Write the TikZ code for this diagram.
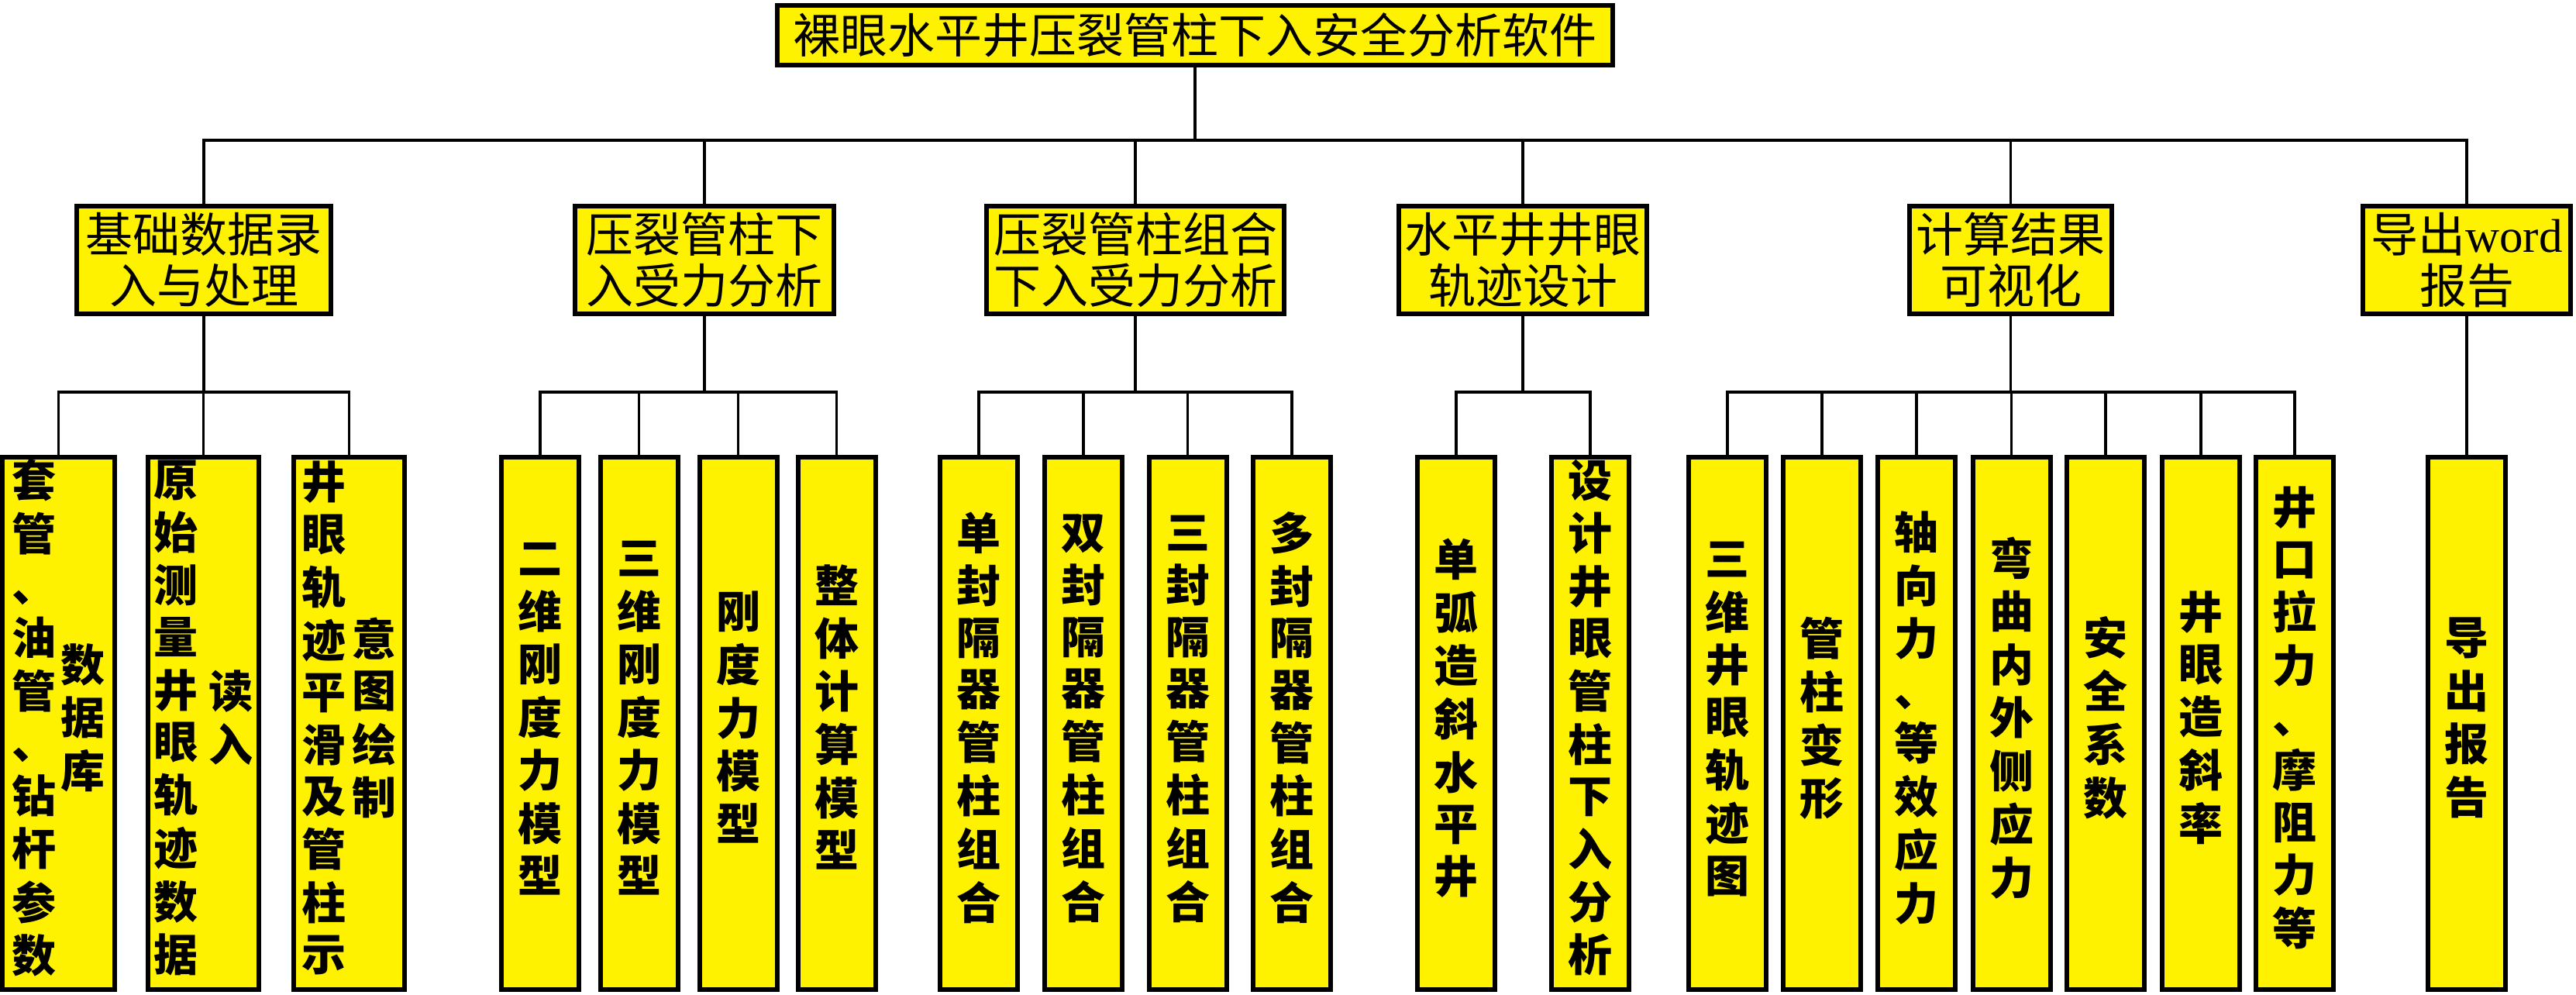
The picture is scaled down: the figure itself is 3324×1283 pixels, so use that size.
\documentclass[tikz,border=0pt]{standalone}
\usepackage{fontspec}
\usetikzlibrary{backgrounds}
\setmainfont{Liberation Serif}
\newfontfamily\cjk{Noto Sans CJK SC}
\newcommand\vt[1]{\begin{tabular}{@{}c@{}}#1\end{tabular}}
\begin{document}
\begin{tikzpicture}[x=1pt,y=-1pt,
  bx/.style={draw=black,line width=6pt,fill=yellow,inner sep=0pt,align=center},
  topbox/.style={bx,minimum width=1078pt,minimum height=77pt,font=\cjk\fontsize{61}{66}\selectfont},
  midbox/.style={bx,minimum height=139pt,font=\cjk\fontsize{61}{66}\selectfont},
  leaf/.style={bx,minimum width=100pt,minimum height=687pt,font=\cjk\bfseries\fontsize{57}{66}\selectfont},
  wire/.style={line width=3.5pt}]
\useasboundingbox (0,0) rectangle (3324,1283);
\coordinate (yT) at (0,181);
\coordinate (yL) at (0,506);

% nodes
\node[topbox] (T) at (1542,45.5) {裸眼水平井压裂管柱下入安全分析软件};

\node[midbox,minimum width=328pt] (B1) at (263,335.5) {基础数据录\\入与处理};
\node[midbox,minimum width=334pt] (B2) at (909,335.5) {压裂管柱下\\入受力分析};
\node[midbox,minimum width=384pt] (B3) at (1465,335.5) {压裂管柱组合\\下入受力分析};
\node[midbox,minimum width=320pt] (B4) at (1965,335.5) {水平井井眼\\轨迹设计};
\node[midbox,minimum width=261pt] (B5) at (2594.5,335.5) {计算结果\\可视化};
\node[midbox,minimum width=268pt] (B6) at (3183,335.5) {导出{\rmfamily word}\\报告};

% leaves group 1
\node[leaf,minimum width=145pt] (L1a) at (75.5,933.5) {\vt{套\\管\\、\\油\\管\\、\\钻\\杆\\参\\数}\hspace{6pt}\vt{数\\据\\库}};
\node[leaf,minimum width=143pt] (L1b) at (262.5,933.5) {\vt{原\\始\\测\\量\\井\\眼\\轨\\迹\\数\\据}\hspace{14pt}\vt{读\\入}};
\node[leaf,minimum width=143pt] (L1c) at (450.5,933.5) {\vt{井\\眼\\轨\\迹\\平\\滑\\及\\管\\柱\\示}\hspace{8pt}\vt{意\\图\\绘\\制}};
% group 2
\node[leaf] (L2a) at (697,933.5) {\vt{二\\维\\刚\\度\\力\\模\\型}};
\node[leaf] (L2b) at (824.5,933.5) {\vt{三\\维\\刚\\度\\力\\模\\型}};
\node[leaf] (L2c) at (952.5,933.5) {\vt{刚\\度\\力\\模\\型}};
\node[leaf] (L2d) at (1079.5,933.5) {\vt{整\\体\\计\\算\\模\\型}};
% group 3
\node[leaf] (L3a) at (1263,933.5) {\vt{单\\封\\隔\\器\\管\\柱\\组\\合}};
\node[leaf] (L3b) at (1398,933.5) {\vt{双\\封\\隔\\器\\管\\柱\\组\\合}};
\node[leaf] (L3c) at (1532.5,933.5) {\vt{三\\封\\隔\\器\\管\\柱\\组\\合}};
\node[leaf] (L3d) at (1667,933.5) {\vt{多\\封\\隔\\器\\管\\柱\\组\\合}};
% group 4
\node[leaf] (L4a) at (1879,933.5) {\vt{单\\弧\\造\\斜\\水\\平\\井}};
\node[leaf] (L4b) at (2052,933.5) {\vt{设\\计\\井\\眼\\管\\柱\\下\\入\\分\\析}};
% group 5
\node[leaf] (L5a) at (2229,933.5) {\vt{三\\维\\井\\眼\\轨\\迹\\图}};
\node[leaf] (L5b) at (2351,933.5) {\vt{管\\柱\\变\\形}};
\node[leaf] (L5c) at (2473,933.5) {\vt{轴\\向\\力\\、\\等\\效\\应\\力}};
\node[leaf] (L5d) at (2595.5,933.5) {\vt{弯\\曲\\内\\外\\侧\\应\\力}};
\node[leaf] (L5e) at (2717,933.5) {\vt{安\\全\\系\\数}};
\node[leaf] (L5f) at (2840,933.5) {\vt{井\\眼\\造\\斜\\率}};
\node[leaf] (L5g) at (2961,933.5) {\vt{井\\口\\拉\\力\\、\\摩\\阻\\力\\等}};
% group 6
\node[leaf] (L6a) at (3183,933.5) {\vt{导\\出\\报\\告}};

% connectors (behind boxes)
\begin{pgfonlayer}{background}
\fill[white] (0,0) rectangle (3324,1283);
% level 1
\draw[wire] (T.south) -- (T.south |- yT);
\draw[wire] (B1.north) |- (B6.north |- yT) -- (B6.north);
\foreach \b in {B2,B3,B4,B5} \draw[wire] (\b.north) -- (\b.north |- yT);
% group 1
\draw[wire] (L1a.north) |- (L1c.north |- yL) -- (L1c.north);
\draw[wire] (B1.south) -- (B1.south |- yL);
\draw[wire] (L1b.north) -- (L1b.north |- yL);
% group 2
\draw[wire] (L2a.north) |- (L2d.north |- yL) -- (L2d.north);
\draw[wire] (B2.south) -- (B2.south |- yL);
\foreach \l in {L2b,L2c} \draw[wire] (\l.north) -- (\l.north |- yL);
% group 3
\draw[wire] (L3a.north) |- (L3d.north |- yL) -- (L3d.north);
\draw[wire] (B3.south) -- (B3.south |- yL);
\foreach \l in {L3b,L3c} \draw[wire] (\l.north) -- (\l.north |- yL);
% group 4
\draw[wire] (L4a.north) |- (L4b.north |- yL) -- (L4b.north);
\draw[wire] (B4.south) -- (B4.south |- yL);
% group 5
\draw[wire] (L5a.north) |- (L5g.north |- yL) -- (L5g.north);
\draw[wire] (B5.south) -- (B5.south |- yL);
\foreach \l in {L5b,L5c,L5d,L5e,L5f} \draw[wire] (\l.north) -- (\l.north |- yL);
% group 6
\draw[wire] (B6.south) -- (L6a.north);
\end{pgfonlayer}
\end{tikzpicture}
\end{document}
